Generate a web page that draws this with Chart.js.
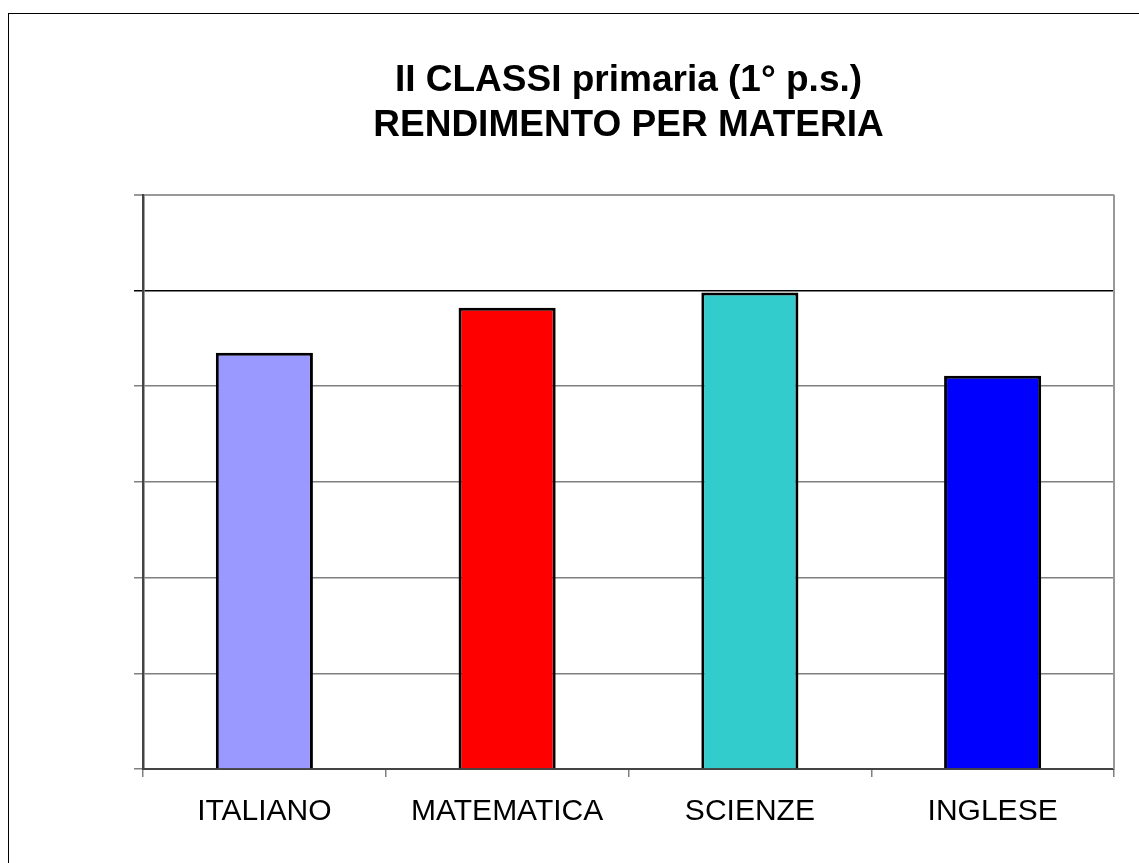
<!DOCTYPE html>
<html>
<head>
<meta charset="utf-8">
<script src="https://cdn.jsdelivr.net/npm/chart.js@4"></script>
<style>
  html, body { margin: 0; padding: 0; overflow: hidden; background: #fff; }
  #frame { position: absolute; left: 8px; top: 13px; width: 1300px; height: 1000px; border: 1px solid #000; }
  #wrap { position: absolute; left: 0; top: 0; width: 1139px; height: 863px; }
</style>
</head>
<body>
<div id="frame"></div>
<div id="wrap"><canvas id="chart" width="1139" height="863"></canvas></div>
<script>
const materie = ['ITALIANO', 'MATEMATICA', 'SCIENZE', 'INGLESE'];
const rendimento = [4.35, 4.82, 4.98, 4.11];
const colori = ['#9999FF', '#FF0000', '#33CCCC', '#0000FF'];
const titolo = ['II CLASSI primaria (1° p.s.)', 'RENDIMENTO PER MATERIA'];

// bordo grigio del riquadro (lato destro)
const bordoPlot = {
  id: 'bordoPlot',
  afterDatasetsDraw(chart) {
    const { ctx, chartArea: a } = chart;
    ctx.save();
    ctx.strokeStyle = '#999999';
    ctx.lineWidth = 2;
    ctx.beginPath();
    ctx.moveTo(a.right, a.top);
    ctx.lineTo(a.right, a.bottom);
    ctx.stroke();
    ctx.restore();
  }
};

new Chart(document.getElementById('chart'), {
  type: 'bar',
  data: {
    labels: materie,
    datasets: [{
      data: rendimento,
      backgroundColor: colori,
      borderColor: '#000',
      borderWidth: 3,
      barPercentage: 0.4,
      categoryPercentage: 1
    }]
  },
  options: {
    responsive: false,
    animation: false,
    layout: { padding: { left: 143, right: 25, top: 0, bottom: 0 } },
    plugins: {
      legend: { display: false },
      tooltip: { enabled: false },
      title: {
        display: true,
        text: titolo,
        color: '#000',
        font: { family: 'Liberation Sans, Arial', size: 37, weight: 'bold', lineHeight: 1.2 },
        padding: { top: 59, bottom: 47 }
      }
    },
    scales: {
      x: {
        grid: { offset: true, drawOnChartArea: false, drawTicks: true, tickLength: 8, color: '#808080', lineWidth: 1.5 },
        border: { color: '#444444', width: 2 },
        ticks: { color: '#000', padding: 17, font: { family: 'Liberation Sans, Arial', size: 30 } },
        afterFit(s) { s.height = 94; }
      },
      y: {
        min: 0,
        max: 6,
        ticks: { display: false, stepSize: 1 },
        grid: {
          tickLength: 9,
          color: c => c.tick.value === 6 ? '#999999' : (c.tick.value === 5 ? '#000000' : '#808080'),
          lineWidth: c => c.tick.value === 6 ? 2 : 1.5
        },
        border: { color: '#444444', width: 2.5 },
        afterFit(s) { s.width = 0; }
      }
    }
  },
  plugins: [bordoPlot]
});
</script>
</body>
</html>
